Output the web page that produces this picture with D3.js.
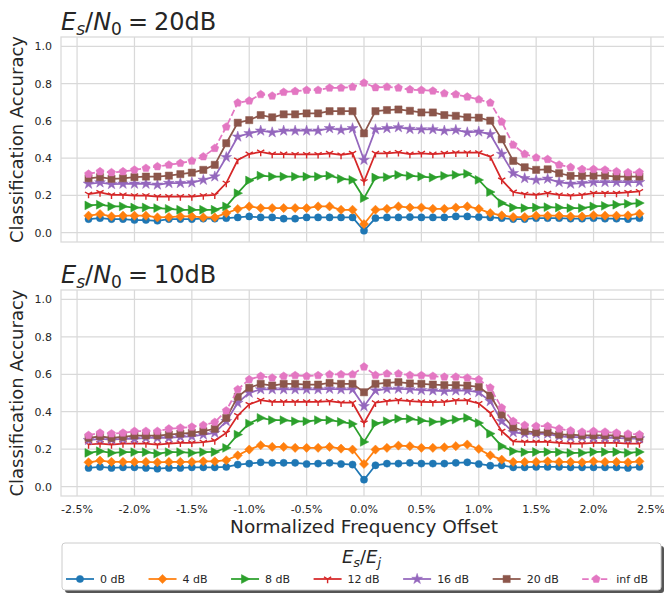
<!DOCTYPE html>
<meta charset="utf-8">
<style>
body{ margin:0; background-color:white; }
svg text{ font-family:"DejaVu Sans", sans-serif; fill:#262626; }
</style>
<body>
<svg class="chart"></svg>
<script src="https://cdn.jsdelivr.net/npm/d3@7"></script>
<script>
// frequency offsets in percent
var offsets = [-2.4,-2.3,-2.2,-2.1,-2.0,-1.9,-1.8,-1.7,-1.6,-1.5,-1.4,-1.3,-1.2,-1.1,-1.0,-0.9,-0.8,-0.7,-0.6,-0.5,-0.4,-0.3,-0.2,-0.1,
  0.0,0.1,0.2,0.3,0.4,0.5,0.6,0.7,0.8,0.9,1.0,1.1,1.2,1.3,1.4,1.5,1.6,1.7,1.8,1.9,2.0,2.1,2.2,2.3,2.4];

var seriesNames = ["0 dB","4 dB","8 dB","12 dB","16 dB","20 dB","inf dB"];
var xTicks = [-2.5,-2.0,-1.5,-1.0,-0.5,0.0,0.5,1.0,1.5,2.0,2.5];
var yTicks = [0.0,0.2,0.4,0.6,0.8,1.0];

// Es/N0 = 20dB
var top0 = [0.073,0.078,0.073,0.073,0.068,0.068,0.064,0.073,0.073,0.073,0.075,0.075,0.078,0.082,0.087,0.082,0.082,0.075,0.075,0.082,0.082,0.082,0.082,0.082,
  0.011,0.078,0.082,0.082,0.084,0.082,0.082,0.082,0.087,0.087,0.084,0.082,0.078,0.073,0.073,0.078,0.078,0.078,0.075,0.075,0.078,0.075,0.075,0.073,0.078];
var top4 = [0.091,0.100,0.087,0.091,0.091,0.091,0.082,0.084,0.087,0.087,0.082,0.082,0.105,0.127,0.141,0.132,0.132,0.132,0.132,0.132,0.141,0.141,0.123,0.123,
  0.046,0.123,0.128,0.141,0.135,0.135,0.128,0.128,0.135,0.141,0.128,0.105,0.093,0.084,0.084,0.091,0.091,0.091,0.087,0.087,0.093,0.091,0.091,0.093,0.102];
var top8 = [0.146,0.150,0.141,0.141,0.135,0.135,0.132,0.128,0.123,0.123,0.123,0.123,0.141,0.212,0.280,0.306,0.301,0.301,0.301,0.301,0.301,0.306,0.289,0.283,
  0.185,0.296,0.298,0.310,0.305,0.301,0.296,0.305,0.310,0.316,0.283,0.218,0.159,0.135,0.132,0.135,0.137,0.135,0.132,0.132,0.141,0.144,0.150,0.155,0.159];
var top12 = [0.207,0.216,0.203,0.203,0.199,0.199,0.194,0.194,0.194,0.194,0.199,0.203,0.266,0.390,0.422,0.433,0.422,0.422,0.420,0.420,0.420,0.426,0.417,0.426,
  0.274,0.426,0.426,0.431,0.422,0.426,0.422,0.426,0.429,0.429,0.429,0.408,0.283,0.218,0.207,0.203,0.212,0.203,0.199,0.203,0.212,0.212,0.212,0.216,0.221];
var top16 = [0.262,0.269,0.260,0.262,0.262,0.262,0.257,0.266,0.266,0.269,0.283,0.301,0.405,0.515,0.533,0.547,0.538,0.547,0.547,0.547,0.547,0.560,0.551,0.560,
  0.390,0.554,0.560,0.565,0.556,0.554,0.554,0.547,0.551,0.538,0.542,0.528,0.422,0.319,0.292,0.283,0.289,0.271,0.262,0.266,0.271,0.271,0.271,0.271,0.271];
var top20 = [0.292,0.298,0.289,0.292,0.298,0.301,0.301,0.306,0.314,0.322,0.337,0.364,0.480,0.590,0.604,0.631,0.619,0.635,0.635,0.640,0.640,0.652,0.652,0.652,
  0.533,0.652,0.658,0.661,0.654,0.645,0.645,0.631,0.627,0.619,0.617,0.601,0.501,0.385,0.351,0.337,0.340,0.319,0.305,0.305,0.306,0.306,0.301,0.301,0.301];
var topInf = [0.315,0.328,0.323,0.328,0.337,0.346,0.355,0.364,0.373,0.385,0.408,0.453,0.568,0.697,0.708,0.742,0.734,0.754,0.759,0.765,0.765,0.777,0.777,0.782,
  0.804,0.779,0.782,0.777,0.768,0.765,0.761,0.747,0.742,0.729,0.715,0.697,0.595,0.471,0.422,0.403,0.394,0.364,0.351,0.340,0.340,0.337,0.328,0.323,0.324];

// Es/N0 = 10dB
var bot0 = [0.100,0.105,0.100,0.103,0.103,0.100,0.096,0.100,0.100,0.103,0.103,0.103,0.105,0.118,0.123,0.130,0.127,0.127,0.127,0.121,0.123,0.127,0.121,0.118,
  0.037,0.114,0.123,0.123,0.127,0.123,0.123,0.123,0.127,0.130,0.121,0.112,0.114,0.103,0.103,0.105,0.105,0.105,0.103,0.103,0.103,0.103,0.103,0.100,0.105];
var bot4 = [0.130,0.139,0.132,0.132,0.132,0.132,0.130,0.132,0.132,0.132,0.135,0.135,0.141,0.167,0.198,0.221,0.212,0.212,0.207,0.207,0.207,0.212,0.203,0.198,
  0.121,0.198,0.207,0.219,0.216,0.207,0.207,0.210,0.216,0.225,0.201,0.167,0.144,0.132,0.132,0.132,0.135,0.132,0.132,0.130,0.135,0.132,0.132,0.130,0.135];
var bot8 = [0.180,0.189,0.180,0.184,0.184,0.184,0.176,0.184,0.184,0.180,0.184,0.185,0.207,0.278,0.337,0.367,0.355,0.355,0.349,0.349,0.355,0.355,0.346,0.335,
  0.239,0.337,0.349,0.362,0.362,0.353,0.346,0.349,0.358,0.367,0.340,0.283,0.216,0.189,0.184,0.185,0.185,0.184,0.180,0.180,0.185,0.185,0.185,0.180,0.185];
var bot12 = [0.225,0.230,0.225,0.230,0.230,0.230,0.225,0.230,0.234,0.234,0.237,0.246,0.287,0.380,0.439,0.462,0.453,0.453,0.453,0.453,0.453,0.456,0.448,0.448,
  0.340,0.448,0.456,0.462,0.456,0.453,0.451,0.453,0.460,0.460,0.444,0.394,0.296,0.242,0.239,0.239,0.239,0.234,0.230,0.230,0.234,0.234,0.234,0.230,0.230];
var bot16 = [0.248,0.255,0.251,0.255,0.255,0.260,0.260,0.260,0.266,0.269,0.278,0.287,0.349,0.447,0.501,0.519,0.519,0.519,0.519,0.519,0.519,0.522,0.519,0.519,
  0.429,0.513,0.522,0.522,0.519,0.515,0.513,0.510,0.513,0.513,0.504,0.456,0.349,0.290,0.283,0.282,0.282,0.269,0.264,0.264,0.260,0.260,0.260,0.257,0.257];
var bot20 = [0.260,0.269,0.260,0.266,0.273,0.273,0.273,0.278,0.283,0.287,0.296,0.309,0.367,0.480,0.528,0.549,0.540,0.549,0.549,0.545,0.545,0.554,0.549,0.549,
  0.504,0.549,0.554,0.558,0.551,0.549,0.545,0.542,0.542,0.540,0.533,0.487,0.385,0.317,0.296,0.290,0.290,0.278,0.278,0.274,0.274,0.274,0.274,0.264,0.266];
var botInf = [0.274,0.287,0.283,0.287,0.296,0.296,0.296,0.309,0.314,0.319,0.328,0.344,0.406,0.519,0.572,0.590,0.581,0.590,0.594,0.590,0.594,0.599,0.599,0.599,
  0.640,0.595,0.603,0.603,0.595,0.594,0.590,0.586,0.586,0.581,0.572,0.528,0.421,0.349,0.328,0.323,0.323,0.309,0.299,0.292,0.296,0.292,0.287,0.282,0.278];

var topSeries = [top0, top4, top8, top12, top16, top20, topInf];
var botSeries = [bot0, bot4, bot8, bot12, bot16, bot20, botInf];
</script>

<script>
var w = 664, h = 593;
var svg = d3.select('svg').attr('width', w).attr('height', h);

var colors = ['#1f77b4','#ff7f0e','#2ca02c','#d62728','#9467bd','#8c564b','#e377c2'];
var markers = ['circle','diamond','triright','tridown','star','square','pentagon'];
var gridColor = '#d9d9d9';

// axes box in pixels
var left = 61, right = 667;
var x = d3.scaleLinear().domain([-2.64, 2.64]).range([left, right]);

drawPanel(37, 242, topSeries, '20dB', false);
drawPanel(290, 496, botSeries, '10dB', true);
drawLegend();

function drawPanel (top, bottom, series, snr, showX) {
  var y = d3.scaleLinear().domain([-0.05, 1.05]).range([bottom, top]);
  var g = svg.append('g');

  g.append('rect')
    .attr('x', left).attr('y', top)
    .attr('width', right - left).attr('height', bottom - top)
    .attr('fill', 'white').attr('stroke', gridColor).attr('stroke-width', 1.25);

  g.selectAll('.vgrid').data(xTicks).enter().append('line')
    .attr('x1', function (d) { return x(d); }).attr('x2', function (d) { return x(d); })
    .attr('y1', top).attr('y2', bottom)
    .attr('stroke', gridColor).attr('stroke-width', 1.25);

  g.selectAll('.hgrid').data(yTicks).enter().append('line')
    .attr('x1', left).attr('x2', right)
    .attr('y1', function (d) { return y(d); }).attr('y2', function (d) { return y(d); })
    .attr('stroke', gridColor).attr('stroke-width', 1.25);

  g.selectAll('.ylab').data(yTicks).enter().append('text')
    .attr('x', 52).attr('y', function (d) { return y(d) + 4; })
    .attr('text-anchor', 'end').attr('font-size', '11px')
    .text(function (d) { return d.toFixed(1); });

  if (showX) {
    g.selectAll('.xlab').data(xTicks).enter().append('text')
      .attr('x', function (d) { return x(d); }).attr('y', bottom + 17)
      .attr('text-anchor', 'middle').attr('font-size', '11px')
      .text(function (d) { return d.toFixed(1) + '%'; });
    g.append('text')
      .attr('x', x(0)).attr('y', bottom + 37)
      .attr('text-anchor', 'middle').attr('font-size', '18.5px')
      .text('Normalized Frequency Offset');
  }

  g.append('text')
    .attr('transform', 'translate(23,' + ((top + bottom) / 2) + ') rotate(-90)')
    .attr('text-anchor', 'middle').attr('font-size', '18px')
    .text('Classification Accuracy');

  // title  E_s/N_0 = ..dB
  var t = g.append('text').attr('x', 61).attr('y', top - 7).attr('font-size', '24px');
  t.append('tspan').attr('font-style', 'italic').text('E');
  t.append('tspan').attr('font-style', 'italic').attr('font-size', '17px').attr('dy', 5).text('s');
  t.append('tspan').attr('dy', -5).text('/');
  t.append('tspan').attr('font-style', 'italic').text('N');
  t.append('tspan').attr('font-size', '17px').attr('dy', 5).text('0');
  t.append('tspan').attr('dy', -5).attr('dx', 6).text('=');
  t.append('tspan').attr('dx', 6).text(snr);

  var line = d3.line()
    .x(function (d, i) { return x(offsets[i]); })
    .y(function (d) { return y(d); });

  series.forEach(function (vals, k) {
    g.append('path')
      .attr('d', line(vals))
      .attr('fill', 'none')
      .attr('stroke', colors[k])
      .attr('stroke-width', 1.75)
      .attr('stroke-dasharray', k == 6 ? '6.5,2.8' : null);
    g.selectAll('.m' + k).data(vals).enter().append('path')
      .attr('transform', function (d, i) { return 'translate(' + x(offsets[i]) + ',' + y(d) + ')'; })
      .attr('d', markerPath(markers[k]))
      .attr('fill', markers[k] == 'tridown' ? 'none' : colors[k])
      .attr('stroke', colors[k])
      .attr('stroke-width', markers[k] == 'tridown' ? 1.4 : 0.5);
  });
}

function markerPath (type) {
  var p = d3.path();
  if (type == 'circle') {
    p.arc(0, 0, 3.6, 0, 2 * Math.PI);
  } else if (type == 'diamond') {
    p.moveTo(0, -4.6); p.lineTo(4.6, 0); p.lineTo(0, 4.6); p.lineTo(-4.6, 0); p.closePath();
  } else if (type == 'triright') {
    p.moveTo(4.8, 0); p.lineTo(-3.6, -4.4); p.lineTo(-3.6, 4.4); p.closePath();
  } else if (type == 'tridown') {
    p.moveTo(0, 0); p.lineTo(0, 4.2);
    p.moveTo(0, 0); p.lineTo(-3.6, -2.1);
    p.moveTo(0, 0); p.lineTo(3.6, -2.1);
  } else if (type == 'star') {
    return d3.symbol(d3.symbolStar, 36)();
  } else if (type == 'square') {
    p.rect(-3.6, -3.6, 7.2, 7.2);
  } else if (type == 'pentagon') {
    for (var i = 0; i < 5; i++) {
      var a = -Math.PI / 2 + i * 2 * Math.PI / 5;
      if (i == 0) p.moveTo(4.2 * Math.cos(a), 4.2 * Math.sin(a));
      else p.lineTo(4.2 * Math.cos(a), 4.2 * Math.sin(a));
    }
    p.closePath();
  }
  return p.toString();
}

function drawLegend () {
  var bx = 62, by = 543, bw = 599, bh = 47;
  var g = svg.append('g');
  // shadow
  g.append('rect').attr('x', bx + 3).attr('y', by + 3).attr('width', bw).attr('height', bh)
    .attr('rx', 3).attr('fill', '#555');
  g.append('rect').attr('x', bx).attr('y', by).attr('width', bw).attr('height', bh)
    .attr('rx', 3).attr('fill', 'white').attr('stroke', '#cccccc').attr('stroke-width', 1);

  var t = g.append('text').attr('x', bx + bw / 2).attr('y', by + 20)
    .attr('text-anchor', 'middle').attr('font-size', '18px');
  t.append('tspan').attr('font-style', 'italic').text('E');
  t.append('tspan').attr('font-style', 'italic').attr('font-size', '13px').attr('dy', 4).text('s');
  t.append('tspan').attr('dy', -4).text('/');
  t.append('tspan').attr('font-style', 'italic').text('E');
  t.append('tspan').attr('font-style', 'italic').attr('font-size', '13px').attr('dy', 4).text('j');

  var cx = 66, ly = 579;
  seriesNames.forEach(function (name, k) {
    g.append('line').attr('x1', cx).attr('x2', cx + 28).attr('y1', ly).attr('y2', ly)
      .attr('stroke', colors[k]).attr('stroke-width', 1.75)
      .attr('stroke-dasharray', k == 6 ? '6.5,2.8' : null);
    g.append('path').attr('transform', 'translate(' + (cx + 14) + ',' + ly + ')')
      .attr('d', markerPath(markers[k]))
      .attr('fill', markers[k] == 'tridown' ? 'none' : colors[k])
      .attr('stroke', colors[k])
      .attr('stroke-width', markers[k] == 'tridown' ? 1.4 : 0.5);
    var txt = g.append('text').attr('x', cx + 34).attr('y', ly + 4)
      .attr('font-size', '11px').text(name);
    cx = cx + 34 + txt.node().getComputedTextLength() + 23.5;
  });
}
</script>
</body>
</html>
